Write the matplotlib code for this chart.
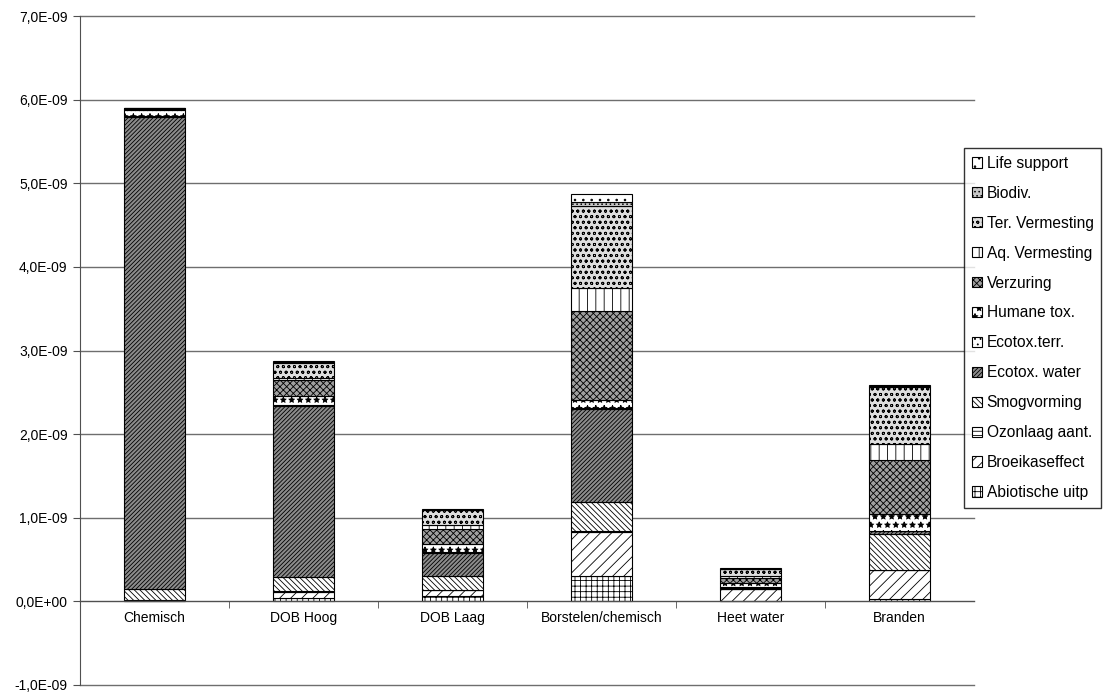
import matplotlib
matplotlib.use("Agg")
import matplotlib.pyplot as plt
import numpy as np
from matplotlib.patches import Patch
from matplotlib.ticker import FuncFormatter, FixedLocator

plt.rcParams['font.family'] = ['Liberation Sans', 'DejaVu Sans']
plt.rcParams['hatch.linewidth'] = 0.6

categories = ["Chemisch", "DOB Hoog", "DOB Laag", "Borstelen/chemisch", "Heet water", "Branden"]

# values in units of 1e-9, bottom to top of each stack
abiotische = [0.010, 0.036, 0.060, 0.305, 0.010, 0.030]
broeikas   = [0.010, 0.080, 0.075, 0.520, 0.140, 0.345]
ozonlaag   = [0.002, 0.005, 0.005, 0.020, 0.002, 0.005]
smog       = [0.130, 0.165, 0.160, 0.343, 0.005, 0.430]
eco_water  = [5.640, 2.050, 0.280, 1.110, 0.010, 0.030]
eco_terr   = [0.010, 0.010, 0.010, 0.010, 0.003, 0.005]
humane     = [0.075, 0.110, 0.100, 0.100, 0.050, 0.200]
verzuring  = [0.010, 0.190, 0.180, 1.060, 0.060, 0.650]
aq_verm    = [0.003, 0.020, 0.040, 0.280, 0.020, 0.190]
ter_verm   = [0.007, 0.190, 0.180, 0.980, 0.090, 0.680]
biodiv     = [0.002, 0.010, 0.005, 0.050, 0.003, 0.010]
life       = [0.002, 0.010, 0.005, 0.090, 0.002, 0.015]

series = [
    ("Abiotische uitp", abiotische),
    ("Broeikaseffect", broeikas),
    ("Ozonlaag aant.", ozonlaag),
    ("Smogvorming", smog),
    ("Ecotox. water", eco_water),
    ("Ecotox.terr.", eco_terr),
    ("Humane tox.", humane),
    ("Verzuring", verzuring),
    ("Aq. Vermesting", aq_verm),
    ("Ter. Vermesting", ter_verm),
    ("Biodiv.", biodiv),
    ("Life support", life),
]

styles = {
    "Abiotische uitp": ("white", "+++"),
    "Broeikaseffect": ("white", "///"),
    "Ozonlaag aant.": ("white", "----"),
    "Smogvorming": ("white", "\\\\\\\\\\\\"),
    "Ecotox. water": ("#8c8c8c", "////////"),
    "Ecotox.terr.": ("white", "..."),
    "Humane tox.": ("white", "**"),
    "Verzuring": ("#a0a0a0", "xxxxx"),
    "Aq. Vermesting": ("white", "||"),
    "Ter. Vermesting": ("#dedede", "ooo"),
    "Biodiv.": ("#c8c8c8", "...."),
    "Life support": ("white", ".."),
}

fig = plt.figure(figsize=(11.18, 6.92), dpi=100)
ax = fig.add_axes([80/1118, 7/692, (974-80)/1118, (685-16)/692])

x = np.arange(len(categories))
bottom = np.zeros(len(categories))
handles = []
for name, vals in series:
    v = np.array(vals) * 1e-9
    fc, h = styles[name]
    ax.bar(x, v, width=0.41, bottom=bottom, color=fc, edgecolor="black",
           hatch=h, linewidth=0.8, zorder=3)
    bottom += v
    handles.append(Patch(facecolor=fc, edgecolor="black", hatch=h, linewidth=0.8, label=name))

ax.set_xlim(-0.5, len(categories) - 0.5)
ax.set_ylim(-1e-9, 7e-9)
yt = np.arange(-1, 8) * 1e-9
ax.set_yticks(yt)
ax.yaxis.set_major_formatter(FuncFormatter(lambda v, p: ("%.1E" % v).replace(".", ",")))
for y in yt:
    if abs(y) > 1e-15:
        ax.axhline(y, color="#6e6e6e", linewidth=1.0, zorder=1, clip_on=False)

for s in ["top", "right"]:
    ax.spines[s].set_visible(False)
ax.spines["bottom"].set_position(("data", 0))
ax.spines["bottom"].set_color("#505050")
ax.spines["bottom"].set_linewidth(1.0)
ax.spines["bottom"].set_zorder(4)
ax.spines["left"].set_color("#505050")

ax.set_xticks(x)
ax.set_xticklabels(categories, fontsize=10)
ax.tick_params(axis="x", which="major", length=0, pad=7)
ax.xaxis.set_minor_locator(FixedLocator(x[:-1] + 0.5))
ax.tick_params(axis="x", which="minor", length=5, direction="out", color="#505050")
ax.tick_params(axis="y", labelsize=10, length=5, direction="out", color="#505050", pad=4)

leg = ax.legend(handles[::-1], [n for n, _ in series][::-1], loc="upper left",
                bbox_to_anchor=(964/1118, (692-148)/692), bbox_transform=fig.transFigure,
                fontsize=11.2, frameon=True, fancybox=False, borderaxespad=0,
                handlelength=0.65, handleheight=0.65, handletextpad=0.3,
                labelspacing=0.96, borderpad=0.5)
leg.get_frame().set_edgecolor("black")
leg.get_frame().set_linewidth(1.0)

fig.savefig("out.png", dpi=100)
